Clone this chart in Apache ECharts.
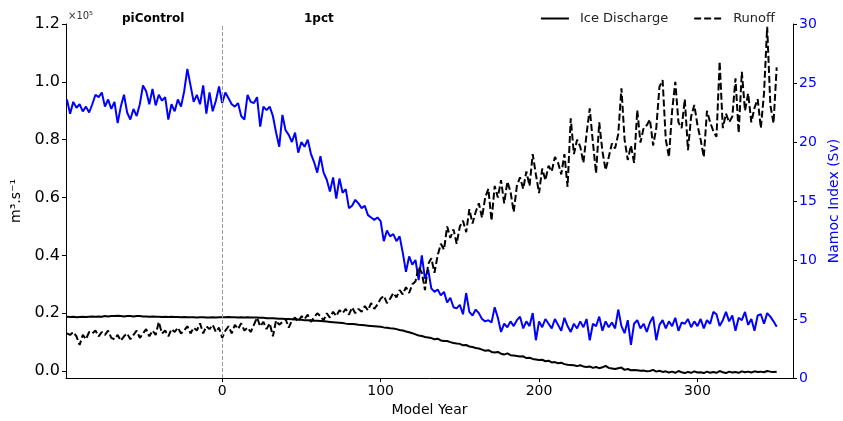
<!DOCTYPE html>
<html><head><meta charset="utf-8">
<script src="https://cdn.jsdelivr.net/npm/echarts@6/dist/echarts.min.js"></script>
<style>html,body{margin:0;padding:0;background:#fff}#c{width:843px;height:421px}</style>
</head><body><div id="c"></div>
<script>
// Model years (step 2)
const startYear = -98, stepYear = 2;
// Namoc index (Sv), right axis
const namoc = [
23.6,22.4,23.4,22.9,23.2, 22.6,23.0,22.5,23.2,24.0, 23.8,24.2,23.0,23.6,22.8, 23.4,21.6,23.0,24.0,22.5,
21.9,22.8,22.2,23.2,24.8, 24.3,23.2,24.5,23.1,24.0, 23.5,23.8,21.9,23.2,22.6, 23.6,23.0,24.3,26.2,24.8,
23.4,24.0,23.2,24.8,22.4, 24.2,22.6,23.5,24.7,23.3,
24.2,23.7,23.2,23.0,23.3, 22.2,21.9,24.0,23.4,23.3, 23.8,21.3,23.0,22.7,23.0, 22.2,20.8,19.6,22.3,21.0,
20.6,20.0,20.8,19.1,20.0, 19.6,20.2,19.0,18.3,17.4, 18.8,17.4,16.8,15.8,17.0, 15.2,16.9,15.7,16.0,14.4,
14.6,15.1,14.8,14.4,14.6, 13.8,13.6,13.4,13.6,13.3, 11.6,12.5,12.0,12.2,11.6, 12.0,10.6,9.0,10.3,9.6,
10.0,8.3,10.4,8.4,9.2, 7.6,7.3,7.5,7.0,7.3, 6.4,6.8,6.0,5.9,6.2, 5.4,7.2,5.6,5.3,5.8,
5.5,5.0,4.8,4.9,4.7, 6.0,5.1,3.9,4.6,4.3, 4.8,4.4,4.9,5.2,4.2, 4.8,4.4,5.5,3.2,4.8,
4.3,5.0,4.6,4.2,5.0, 4.5,4.0,5.1,4.4,3.9, 4.6,4.2,4.8,4.3,5.0, 3.2,4.6,4.4,5.2,4.0,
4.8,4.3,4.7,4.2,5.8, 4.4,3.8,4.9,2.8,4.6, 4.9,4.2,4.6,3.9,4.7, 5.2,3.2,4.5,4.9,4.2,
4.8,4.4,5.1,4.0,4.7, 4.6,5.0,4.3,4.8,4.4, 5.0,4.2,4.9,4.6,5.6, 5.4,4.4,4.9,5.6,4.8,
5.3,4.0,5.1,4.9,5.6, 4.5,5.0,4.0,5.3,5.4, 4.6,5.5,5.2,4.8,4.35
];
// Runoff (x1e5 m3/s), left axis
const runoff = [
0.13,0.125,0.135,0.12,0.09, 0.125,0.11,0.135,0.13,0.14, 0.12,0.135,0.125,0.14,0.115, 0.11,0.125,0.105,0.12,0.13,
0.11,0.125,0.14,0.115,0.13, 0.145,0.12,0.14,0.125,0.17, 0.13,0.14,0.12,0.145,0.135, 0.15,0.13,0.14,0.155,0.13,
0.15,0.14,0.165,0.13,0.155, 0.145,0.16,0.135,0.15,0.115,
0.14,0.155,0.13,0.16,0.145, 0.165,0.14,0.15,0.135,0.16, 0.185,0.155,0.17,0.145,0.165, 0.12,0.175,0.16,0.17,0.18,
0.15,0.175,0.185,0.17,0.19, 0.18,0.195,0.17,0.185,0.2, 0.19,0.175,0.2,0.185,0.205, 0.19,0.21,0.2,0.215,0.195,
0.22,0.2,0.215,0.205,0.225, 0.21,0.235,0.215,0.23,0.25, 0.26,0.235,0.25,0.27,0.255, 0.28,0.265,0.29,0.27,0.3,
0.31,0.36,0.34,0.28,0.37, 0.39,0.34,0.4,0.44,0.42, 0.5,0.46,0.49,0.44,0.5, 0.52,0.48,0.56,0.51,0.55,
0.58,0.53,0.6,0.63,0.52, 0.64,0.6,0.66,0.58,0.655, 0.62,0.55,0.64,0.67,0.63, 0.69,0.64,0.75,0.68,0.615,
0.7,0.66,0.71,0.69,0.74, 0.72,0.68,0.75,0.637,0.874, 0.75,0.8,0.776,0.72,0.82, 0.908,0.79,0.684,0.86,0.76,
0.695,0.74,0.787,0.77,0.82, 0.978,0.8,0.73,0.78,0.72, 0.902,0.79,0.84,0.85,0.87, 0.78,0.84,0.983,1.006,0.8,
0.74,0.9,1.0,0.86,0.84, 0.94,0.764,0.88,0.92,0.85, 0.8,0.74,0.9,0.86,0.83, 0.81,1.07,0.84,0.89,0.86,
0.88,1.012,0.823,1.035,0.9, 0.96,0.86,0.91,0.94,0.84, 0.96,1.19,0.92,0.857,1.05
];
// Ice discharge (x1e5 m3/s), left axis
const iceDischarge = [
0.188,0.187,0.188,0.186,0.187, 0.188,0.187,0.188,0.189,0.188, 0.189,0.188,0.19,0.189,0.19, 0.19,0.191,0.19,0.189,0.19,
0.19,0.189,0.19,0.19,0.189, 0.189,0.188,0.189,0.188,0.188, 0.187,0.188,0.187,0.188,0.187, 0.187,0.186,0.187,0.186,0.186,
0.186,0.185,0.186,0.186,0.185, 0.185,0.186,0.185,0.186,0.186,
0.186,0.187,0.186,0.186,0.185, 0.186,0.185,0.186,0.185,0.185, 0.185,0.184,0.184,0.183,0.183, 0.183,0.182,0.181,0.181,0.18,
0.18,0.179,0.178,0.178,0.177, 0.176,0.176,0.175,0.174,0.174, 0.173,0.172,0.171,0.17,0.169, 0.168,0.167,0.166,0.164,0.163,
0.163,0.162,0.16,0.159,0.158, 0.157,0.156,0.155,0.154,0.153, 0.151,0.15,0.148,0.147,0.145, 0.142,0.14,0.137,0.134,0.131,
0.127,0.123,0.121,0.118,0.116, 0.114,0.11,0.112,0.106,0.104, 0.104,0.1,0.097,0.095,0.094, 0.089,0.09,0.085,0.083,0.08,
0.078,0.074,0.07,0.072,0.066, 0.064,0.066,0.06,0.057,0.061, 0.055,0.054,0.052,0.05,0.051, 0.045,0.046,0.042,0.04,0.038,
0.039,0.034,0.036,0.03,0.031, 0.027,0.029,0.024,0.022,0.021, 0.02,0.017,0.02,0.016,0.014, 0.016,0.011,0.014,0.01,0.013,
0.018,0.011,0.009,0.007,0.01, 0.012,0.004,0.007,0.003,0.004, 0.003,0.001,0.002,-0.001,0.0, 0.004,-0.002,0.001,-0.003,-0.001,
-0.005,-0.002,-0.006,0.0,-0.004, -0.007,-0.003,-0.006,-0.001,-0.005, -0.004,-0.007,-0.002,-0.006,-0.003, -0.006,0.0,-0.004,-0.007,-0.002,
-0.005,-0.003,-0.006,-0.001,-0.004, -0.002,-0.005,-0.001,-0.003,-0.002, -0.004,0.0,-0.002,-0.003,-0.002
];
const xTicks = [0, 100, 200, 300];
const leftTicks = [0.0, 0.2, 0.4, 0.6, 0.8, 1.0, 1.2];
const seriesNames = ['Ice Discharge', 'Runoff', 'Namoc'];
const phaseLabels = ['piControl', '1pct'];

const years = namoc.map((_, i) => startYear + i * stepYear);
const pair = arr => arr.map((v, i) => [years[i], v]);

const chart = echarts.init(document.getElementById('c'), null, {renderer: 'canvas'});
const font = 'DejaVu Sans';
chart.setOption({
  animation: false,
  textStyle: {fontFamily: font},
  grid: {left: 66, right: 50, top: 24, bottom: 43, containLabel: false, outerBoundsMode: 'none'},
  legend: {
    data: [seriesNames[0], seriesNames[1]],
    right: 63, top: 7, itemGap: 25, itemWidth: 28, itemHeight: 14,
    orient: 'horizontal',
    itemStyle: {opacity: 0},
    textStyle: {fontSize: 13, color: '#222', fontFamily: font, padding: [0, 0, 0, 6]}
  },
  xAxis: {
    type: 'value', min: -98.6, max: 360.3,
    name: 'Model Year', nameLocation: 'middle', nameGap: 25,
    nameTextStyle: {fontSize: 14, color: '#000'},
    axisLine: {onZero: false, lineStyle: {color: '#000', width: 1}},
    axisTick: {show: true, length: 4, customValues: xTicks, lineStyle: {color: '#000'}},
    axisLabel: {customValues: xTicks, fontSize: 14, color: '#000', margin: 6},
    splitLine: {show: false}
  },
  yAxis: [{
    type: 'value', min: -0.024, max: 1.2, position: 'left',
    name: 'm³.s⁻¹', nameLocation: 'middle', nameGap: 40, nameRotate: 90,
    nameTextStyle: {fontSize: 14, color: '#000'},
    axisLine: {show: true, onZero: false, lineStyle: {color: '#000'}},
    axisTick: {show: true, length: 4, customValues: leftTicks, lineStyle: {color: '#000'}},
    axisLabel: {customValues: leftTicks, fontSize: 16, color: '#000', margin: 6, formatter: v => v.toFixed(1)},
    splitLine: {show: false}
  }, {
    type: 'value', min: 0, max: 30, interval: 5, position: 'right',
    name: 'Namoc Index (Sv)', nameLocation: 'middle', nameGap: 30, nameRotate: 90,
    nameTextStyle: {fontSize: 14, color: '#0000ff'},
    axisLine: {show: true, onZero: false, lineStyle: {color: '#000'}},
    axisTick: {show: true, length: 4, lineStyle: {color: '#000'}},
    axisLabel: {fontSize: 14, color: '#0000ff', margin: 6},
    splitLine: {show: false}
  }],
  graphic: [
    {type: 'text', left: 68, top: 11, style: {text: '×10⁵', fontSize: 10, fill: '#333', fontFamily: font}},
    {type: 'text', left: 122, top: 13, style: {text: phaseLabels[0], fontSize: 12, fontWeight: 'bold', fill: '#000', fontFamily: font}},
    {type: 'text', left: 304, top: 13, style: {text: phaseLabels[1], fontSize: 12, fontWeight: 'bold', fill: '#000', fontFamily: font}}
  ],
  series: [{
    name: seriesNames[2], type: 'line', yAxisIndex: 1, data: pair(namoc),
    symbol: 'none', z: 2,
    lineStyle: {color: '#0000ff', width: 2}, itemStyle: {color: '#0000ff'},
    markLine: {
      silent: true, symbol: 'none', label: {show: false},
      lineStyle: {color: '#999', type: [4, 2], width: 1},
      data: [{xAxis: 0}]
    }
  }, {
    name: seriesNames[0], type: 'line', yAxisIndex: 0, data: pair(iceDischarge),
    symbol: 'none', z: 3,
    lineStyle: {color: '#000', width: 2}, itemStyle: {color: '#000'}
  }, {
    name: seriesNames[1], type: 'line', yAxisIndex: 0, data: pair(runoff),
    symbol: 'none', z: 4,
    lineStyle: {color: '#000', width: 2, type: [7, 3]}, itemStyle: {color: '#000'}
  }]
});
</script></body></html>
